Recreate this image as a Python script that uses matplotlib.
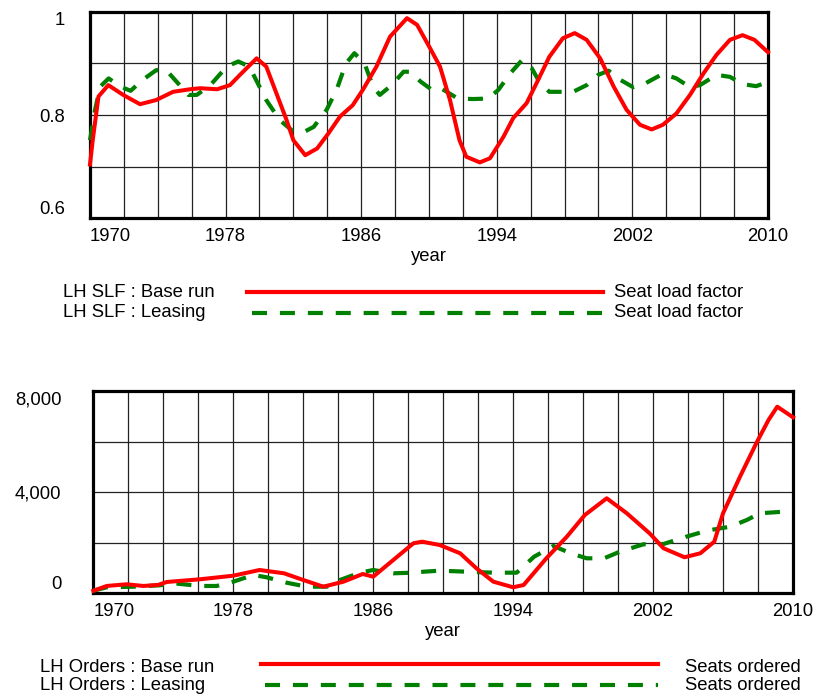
import numpy as np
import matplotlib
matplotlib.use('Agg')
import matplotlib.pyplot as plt
from matplotlib.lines import Line2D

plt.rcParams['font.family'] = ['Liberation Sans', 'DejaVu Sans']
plt.rcParams['font.size'] = 13.3

# --- seat load factor (top panel)
slf_base_year = [1970.0, 1970.16, 1970.5, 1971.08, 1971.96, 1972.95, 1973.9, 1974.9, 1975.9, 1976.5,
                 1977.5, 1978.26, 1978.85, 1979.83, 1980.4, 1981.0, 1981.6, 1982.0, 1982.7, 1983.4,
                 1984.06, 1984.75, 1985.5, 1986.1, 1986.9, 1987.7, 1988.7, 1989.3, 1990.06, 1990.65,
                 1991.24, 1991.8, 1992.2, 1993.0, 1993.6, 1994.4, 1994.97, 1995.76, 1996.35, 1997.1,
                 1997.9, 1998.6, 1999.3, 2000.1, 2000.9, 2001.66, 2002.45, 2003.14, 2003.8, 2004.6,
                 2005.4, 2006.2, 2006.97, 2007.76, 2008.5, 2009.2, 2010.0]
slf_base = [0.704, 0.751, 0.836, 0.858, 0.839, 0.821, 0.829, 0.845, 0.850, 0.852,
            0.850, 0.858, 0.878, 0.910, 0.894, 0.842, 0.790, 0.751, 0.722, 0.735,
            0.764, 0.797, 0.819, 0.849, 0.894, 0.952, 0.988, 0.975, 0.930, 0.894,
            0.829, 0.751, 0.719, 0.708, 0.716, 0.758, 0.794, 0.823, 0.862, 0.913,
            0.949, 0.959, 0.946, 0.910, 0.855, 0.810, 0.781, 0.772, 0.781, 0.803,
            0.839, 0.881, 0.917, 0.946, 0.955, 0.946, 0.922]

slf_lease_year = [1970.0, 1970.3, 1970.6, 1971.1, 1971.8, 1972.4, 1973.1, 1973.9, 1974.5, 1975.1,
                  1975.8, 1976.3, 1977.1, 1978.07, 1978.75, 1979.4, 1979.8, 1980.4, 1981.2, 1981.99,
                  1982.5, 1983.2, 1983.96, 1984.55, 1985.1, 1985.6, 1986.2, 1986.7, 1987.1, 1987.8,
                  1988.5, 1988.9, 1989.5, 1990.25, 1990.8, 1991.7, 1992.6, 1993.5, 1994.1, 1994.8,
                  1995.5, 1996.06, 1996.5, 1997.1, 1998.5, 1999.3, 1999.99, 2000.6, 2001.3, 2002.05,
                  2002.8, 2003.8, 2004.6, 2005.4, 2005.99, 2006.97, 2007.76, 2008.5, 2009.3, 2010.0]
slf_lease = [0.751, 0.810, 0.855, 0.871, 0.855, 0.847, 0.868, 0.887, 0.887, 0.865,
             0.839, 0.839, 0.858, 0.894, 0.904, 0.894, 0.868, 0.829, 0.790, 0.768,
             0.765, 0.777, 0.810, 0.849, 0.900, 0.920, 0.900, 0.855, 0.839, 0.858,
             0.884, 0.884, 0.865, 0.847, 0.850, 0.832, 0.831, 0.832, 0.849, 0.881,
             0.907, 0.891, 0.865, 0.845, 0.845, 0.858, 0.878, 0.886, 0.868, 0.854,
             0.862, 0.880, 0.871, 0.854, 0.858, 0.878, 0.874, 0.860, 0.856, 0.864]

# --- seats ordered (bottom panel)
ord_base_year = [1970.0, 1970.77, 1971.9, 1972.86, 1973.7, 1974.2, 1976.1, 1978.0, 1979.5, 1980.9,
                 1982.0, 1983.15, 1984.3, 1985.4, 1986.0, 1987.15, 1988.3, 1988.8, 1989.8, 1990.97,
                 1991.9, 1992.87, 1994.0, 1994.6, 1995.9, 1997.07, 1998.1, 1999.35, 2000.5, 2001.8,
                 2002.6, 2003.8, 2004.7, 2005.5, 2006.0, 2006.97, 2007.9, 2008.6, 2009.1, 2010.0]
ord_base = [100, 290, 356, 290, 330, 447, 554, 696, 921, 791,
            526, 261, 459, 763, 657, 1317, 1978, 2041, 1910, 1582,
            989, 459, 237, 328, 1384, 2238, 3097, 3757, 3164, 2373,
            1780, 1424, 1582, 2041, 3164, 4612, 5933, 6854, 7380, 6961]

ord_lease_year = [1970.0, 1970.77, 1972.3, 1973.8, 1974.6, 1976.1, 1977.05, 1978.0, 1979.15, 1979.9,
                  1981.05, 1982.2, 1983.35, 1984.1, 1985.25, 1986.0, 1987.15, 1988.3, 1988.9, 1989.8,
                  1991.35, 1992.87, 1994.2, 1995.2, 1996.3, 1997.3, 1998.2, 1999.2, 2000.1, 2001.45,
                  2002.6, 2003.9, 2005.07, 2006.4, 2007.36, 2008.1, 2009.45, 2010.0]
ord_lease = [100, 237, 261, 316, 395, 289, 289, 459, 724, 633,
             419, 261, 261, 526, 815, 921, 791, 815, 854, 894,
             854, 815, 815, 1448, 1871, 1582, 1384, 1384, 1645, 1938,
             1950, 2238, 2476, 2634, 2899, 3164, 3227, 3250]

year_ticks = [1970, 1978, 1986, 1994, 2002, 2010]

RED = '#ff0000'
GREEN = '#008000'
DASH = (3.6, 3.1)
line_kw = dict(solid_joinstyle='round', dash_joinstyle='round', dash_capstyle='butt', clip_on=False)


def style_axes(ax, yticks, ylabels, grid_y, ypad):
    ax.set_xlim(1970, 2010)
    ax.set_ylim(grid_y[0], grid_y[-1])
    ax.set_xticks(year_ticks)
    ax.set_xticks(np.arange(1970, 2011, 2), minor=True)
    ax.set_yticks(yticks)
    ax.set_yticklabels(ylabels)
    ax.set_yticks(grid_y, minor=True)
    ax.grid(True, which='both', color='#222222', lw=0.9)
    ax.tick_params(which='both', length=0)
    ax.tick_params(axis='x', pad=7)
    ax.tick_params(axis='y', pad=ypad)
    for s in ax.spines.values():
        s.set_linewidth(2.3)
        s.set_color('black')
    # end labels are pulled inside the frame, like the original tool does
    xl = ax.get_xticklabels()
    xl[0].set_horizontalalignment('left')
    yl = ax.get_yticklabels()
    yl[0].set_verticalalignment('bottom')
    yl[-1].set_verticalalignment('top')
    ax.set_xlabel('year', labelpad=2)


fig = plt.figure(figsize=(8.13, 6.97), dpi=100)

ax1 = fig.add_axes([0.1107, 0.6872, 0.8339, 0.2956])
ax1.plot(slf_base_year, slf_base, color=RED, lw=2.9, zorder=4, **line_kw)
ax1.plot(slf_lease_year, slf_lease, color=GREEN, lw=3, dashes=DASH, zorder=3, **line_kw)
style_axes(ax1, [0.6, 0.8, 1.0], ['0.6', '0.8', '1'], np.linspace(0.6, 1.0, 5), 18)

ax2 = fig.add_axes([0.1148, 0.1488, 0.8606, 0.2902])
ax2.plot(ord_base_year, ord_base, color=RED, lw=2.9, zorder=4, **line_kw)
ax2.plot(ord_lease_year, ord_lease, color=GREEN, lw=3, dashes=DASH, zorder=3, **line_kw)
style_axes(ax2, [0, 4000, 8000], ['0', '4,000', '8,000'], np.linspace(0, 8000, 5), 23)

# legends drawn under each panel
def legend_row(y_text, y_line, label, x_text, x0, x1, x_right, right, color, dashed):
    fig.text(x_text, y_text, label, va='center', ha='left')
    kw = dict(color=color, lw=3, transform=fig.transFigure)
    if dashed:
        kw['dashes'] = DASH
    fig.add_artist(Line2D([x0, x1], [y_line, y_line], **kw))
    fig.text(x_right, y_text, right, va='center', ha='left')

legend_row(0.581, 0.581, 'LH SLF : Base run', 0.0775, 0.304, 0.742, 0.755, 'Seat load factor', RED, False)
legend_row(0.551, 0.551, 'LH SLF : Leasing', 0.0775, 0.310, 0.742, 0.755, 'Seat load factor', GREEN, True)
legend_row(0.043, 0.0473, 'LH Orders : Base run', 0.0492, 0.321, 0.809, 0.8426, 'Seats ordered', RED, False)
legend_row(0.0172, 0.0172, 'LH Orders : Leasing', 0.0492, 0.326, 0.809, 0.8426, 'Seats ordered', GREEN, True)

fig.savefig('out.png', dpi=100)
